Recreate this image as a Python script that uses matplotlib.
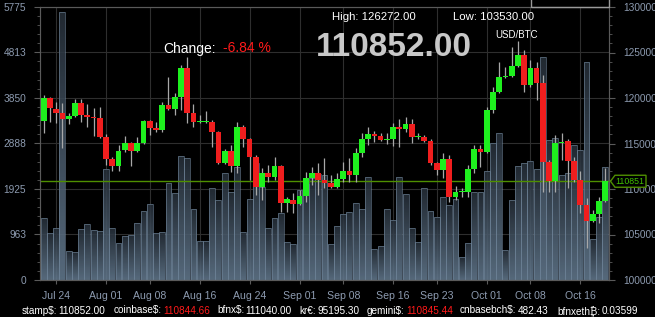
# -*- coding: utf-8 -*-
# BTC/USD ローソク足 + 出来高チャート (黒背景)
import numpy as np
import pandas as pd
import matplotlib
matplotlib.use("Agg")
import matplotlib.pyplot as plt
import matplotlib.dates as mdates
import matplotlib.transforms as mtransforms
from matplotlib.patches import Rectangle, Polygon
from matplotlib.colors import LinearSegmentedColormap
from matplotlib.ticker import AutoMinorLocator, FixedLocator

plt.rcParams['font.family'] = ['Liberation Sans', 'DejaVu Sans', 'Noto Sans']

# データ (価格は千ドル単位)
start_date = '2025-07-22'
open_k = [117.47, 120.00, 118.79, 118.35, 117.69, 118.02, 119.45, 118.13, 117.91, 117.80,
          115.71, 113.30, 112.53, 114.28, 115.05, 114.18, 115.05, 117.47, 116.70, 116.48,
          119.23, 118.79, 120.11, 123.30, 118.35, 117.36, 117.40, 117.36, 116.26, 112.86,
          114.18, 112.53, 116.81, 115.49, 113.52, 110.22, 111.76, 111.32, 112.53, 108.46,
          108.79, 108.35, 109.23, 111.21, 111.76, 110.99, 110.66, 110.22, 111.10, 111.98,
          111.54, 113.96, 115.49, 116.04, 115.82, 115.38, 115.49, 116.81, 116.59, 117.14,
          115.71, 115.71, 115.27, 112.86, 112.09, 113.30, 109.12, 109.67, 109.67, 112.20,
          114.39, 114.07, 118.68, 120.66, 122.31, 122.42, 123.52, 124.73, 121.43, 123.30,
          121.65, 112.97, 110.88, 115.05, 115.27, 113.08, 110.99, 108.24, 106.48, 107.25,
          108.68]
high_k = [120.33, 120.11, 119.56, 119.45, 118.35, 119.89, 119.89, 119.34, 118.90, 119.01,
          116.04, 113.52, 114.83, 115.82, 115.16, 115.71, 117.58, 117.58, 117.36, 119.56,
          122.31, 120.55, 123.63, 124.51, 119.34, 118.13, 118.57, 117.58, 116.37, 114.39,
          114.83, 117.36, 117.03, 115.60, 113.74, 112.31, 112.64, 113.52, 112.64, 109.12,
          109.56, 109.89, 111.87, 112.42, 112.86, 113.41, 111.54, 111.76, 112.97, 113.41,
          114.50, 116.15, 116.81, 116.37, 116.15, 116.15, 117.25, 117.69, 117.91, 117.69,
          116.15, 115.93, 115.49, 112.97, 113.96, 113.74, 110.33, 110.11, 112.64, 114.83,
          114.83, 119.01, 121.21, 123.96, 123.41, 125.60, 126.272, 125.27, 124.18, 123.96,
          122.53, 113.19, 115.93, 116.15, 115.49, 113.52, 111.98, 109.01, 107.69, 109.12,
          112.31]
low_k = [116.15, 117.36, 117.25, 114.50, 117.14, 117.91, 117.36, 116.81, 115.82, 115.60,
         112.64, 111.98, 111.98, 114.07, 112.53, 114.07, 114.95, 115.93, 116.26, 116.26,
         118.68, 118.13, 118.68, 117.25, 116.81, 117.25, 117.25, 114.61, 112.75, 112.75,
         111.87, 111.76, 114.61, 110.99, 109.34, 108.79, 110.77, 110.99, 107.47, 107.47,
         107.36, 108.24, 108.57, 110.44, 109.34, 110.11, 110.11, 110.11, 110.77, 110.77,
         110.77, 113.52, 114.83, 115.16, 115.27, 114.95, 114.72, 114.61, 116.26, 115.05,
         115.49, 115.16, 112.64, 111.54, 111.21, 108.57, 108.79, 109.12, 109.12, 111.76,
         112.42, 113.96, 118.35, 120.55, 122.20, 122.31, 123.41, 120.66, 121.21, 119.78,
         109.67, 109.67, 109.67, 113.19, 110.11, 110.77, 107.36, 103.53, 106.37, 106.26,
         108.57]
close_k = [120.00, 118.90, 118.35, 117.69, 118.02, 119.45, 118.13, 117.91, 117.80, 115.71,
           113.30, 112.53, 114.18, 115.05, 114.18, 115.05, 117.47, 116.70, 116.48, 119.23,
           118.79, 120.11, 123.30, 118.35, 117.36, 117.47, 117.47, 116.26, 112.86, 114.18,
           112.53, 116.81, 115.49, 113.52, 110.22, 111.76, 111.32, 112.53, 108.46, 108.90,
           108.35, 109.23, 111.21, 111.76, 110.99, 110.66, 110.22, 111.10, 111.98, 111.54,
           113.96, 115.49, 116.04, 115.82, 115.38, 115.49, 116.81, 116.59, 117.14, 115.71,
           115.82, 115.27, 112.86, 112.09, 113.30, 109.12, 109.67, 109.78, 112.20, 114.39,
           114.07, 118.68, 120.66, 122.31, 122.42, 123.52, 124.73, 121.43, 123.30, 121.65,
           112.97, 110.88, 115.05, 115.16, 113.08, 110.99, 108.24, 106.48, 107.25, 108.68,
           110.851]
volume = [1311, 994, 1100, 5668, 613, 592, 1079, 1184, 1058, 1036,
          2348, 1100, 783, 931, 952, 1206, 1459, 1607, 994, 1015,
          2052, 1840, 2623, 2580, 1502, 825, 825, 1946, 1692, 2263,
          1861, 2390, 1015, 1713, 2475, 1967, 1100, 1311, 1417, 804,
          761, 1904, 2030, 2157, 2242, 2221, 761, 1142, 1396, 1438,
          1629, 1502, 2178, 656, 719, 1502, 1269, 2178, 1819, 1100,
          804, 1946, 1459, 1332, 1755, 1586, 1713, 486, 783, 1861,
          1861, 2305, 2898, 3109, 635, 1692, 2411, 2475, 2517, 2348,
          4716, 2961, 3003, 2221, 2263, 2855, 2750, 4611, 867, 1332,
          2390]

vol_ticks = [0, 963, 1925, 2888, 3850, 4813, 5775]
price_ticks = [100000, 105000, 110000, 115000, 120000, 125000, 130000]
date_ticks = ['2025-07-24', '2025-08-01', '2025-08-08', '2025-08-16', '2025-08-24', '2025-09-01',
              '2025-09-08', '2025-09-16', '2025-09-23', '2025-10-01', '2025-10-08', '2025-10-16']

last_price = 110851
day_high = 126272.00
day_low = 103530.00
price_now = 110852.00
change_pct = -6.84
pair_name = 'USD/BTC'

ticker_names = ['stamp$:', 'coinbase$:', 'bfnx$:', 'kr€:', 'gemini$:', 'cnbasebch$:', 'bfnxeth₿:']
ticker_values = ['110852.00', '110844.66', '111040.00', '95195.30', '110845.44', '482.43', '0.03599']
ticker_down = [False, True, False, False, True, False, False]

# 色
bg = 'black'
up_col = '#1ef01e'
down_col = '#f01e1e'
wick_col = '#a8a8a8'
grid_col = '#2e2e2e'
spine_col = '#5a5a5a'
label_col = '#8d9bb0'
line_green = '#4f8f00'

# 図
W, H = 655, 317
fig = plt.figure(figsize=(W / 100, H / 100), dpi=100, facecolor=bg)
ax = fig.add_axes([40 / W, 37 / H, 569 / W, 273 / H])
ax.set_facecolor(bg)
ax2 = ax.twinx()

dates = pd.date_range(start_date, periods=len(close_k))
x = mdates.date2num(dates)
w = 0.94

# 出来高 (グラデーション付きバー)
grad = np.linspace(0, 1, 64).reshape(-1, 1)
vcmap = LinearSegmentedColormap.from_list('vol', ['#62788d', '#262f39'])
for xi, v in zip(x, volume):
    rect = Rectangle((xi - w / 2, 0), w, v, fc='none', ec='#6f8499', lw=0.7, alpha=0.6, zorder=2)
    ax.add_patch(rect)
    im = ax.imshow(grad, extent=(xi - w / 2, xi + w / 2, 0, v), origin='lower', cmap=vcmap,
                   aspect='auto', alpha=0.88, zorder=1, interpolation='bilinear')
    im.set_clip_path(rect)

ax.set_xlim(x[0] - 0.59, x[-1] + 0.6)
ax.set_ylim(0, vol_ticks[-1])
ax.yaxis.set_major_locator(FixedLocator(vol_ticks))
ax.set_yticklabels([str(t) for t in vol_ticks])
ax.yaxis.set_minor_locator(AutoMinorLocator(5))
ax.set_axisbelow(True)
ax.grid(True, color=grid_col, lw=0.8)

tick_x = mdates.date2num(pd.to_datetime(date_ticks))
ax.set_xticks(tick_x)
ax.set_xticklabels(pd.to_datetime(date_ticks).strftime('%b %d'))

# ローソク足
o = np.array(open_k) * 1000
h = np.array(high_k) * 1000
l = np.array(low_k) * 1000
c = np.array(close_k) * 1000
ax2.axhline(last_price, color=line_green, lw=1.0, zorder=1)
ax2.vlines(x, l, h, color=wick_col, lw=0.9, zorder=2)
cols = [up_col if ci >= oi else down_col for oi, ci in zip(o, c)]
body = np.maximum(np.abs(c - o), 120)
ax2.bar(x, body, bottom=np.minimum(o, c), width=0.92, color=cols, zorder=3)
ax2.set_ylim(price_ticks[0], price_ticks[-1])
ax2.yaxis.set_major_locator(FixedLocator(price_ticks))
ax2.set_yticklabels([str(t) for t in price_ticks])
ax2.yaxis.set_minor_locator(AutoMinorLocator(5))
ax2.set_xlim(ax.get_xlim())

for a in (ax, ax2):
    for s in a.spines.values():
        s.set_color(spine_col)
    a.tick_params(colors=spine_col, labelcolor=label_col, labelsize=7.3, length=4, width=0.8)
    a.tick_params(which='minor', colors=spine_col, length=2.5, width=0.6)
ax.tick_params(axis='y', pad=6)
ax2.tick_params(axis='y', pad=6.5)
ax.tick_params(axis='x', labelsize=7.6, pad=5, length=3)

# 右端の価格タグ
anchor = mtransforms.ScaledTranslation(1.0, last_price, ax2.get_yaxis_transform())
tag_tr = fig.dpi_scale_trans + anchor
tag = Polygon(np.array([[1.5, 0], [6, 6], [37, 6], [37, -6], [6, -6]]) / 100,
              closed=True, fc='black', ec=line_green, lw=1.0, transform=tag_tr,
              clip_on=False, zorder=10)
ax2.add_patch(tag)
ax2.annotate(f'{last_price}', xy=(1.0, last_price), xycoords=ax2.get_yaxis_transform(),
             xytext=(15.2, -0.3), textcoords='offset points', ha='center', va='center',
             color='#3fbf00', fontsize=6.3, zorder=11, annotation_clip=False)

# 上部の文字
def fx(px):
    return px / W

def fy(py):
    return (H - py) / H

fig.text(fx(331.7), fy(20.5), f'High: {day_high:.2f}', color='white', fontsize=8.2, va='baseline')
fig.text(fx(452.7), fy(20.5), f'Low: {day_low:.2f}', color='white', fontsize=8.2, va='baseline')
fig.text(fx(394), fy(56.5), f'{price_now:.2f}', color='#c8c8c8', fontsize=24,
         fontweight='bold', ha='center', va='baseline')
fig.text(fx(163.3), fy(52.5), 'Change:', color='white', fontsize=10, va='baseline')
fig.text(fx(222.7), fy(52.5), f'{change_pct:.2f} %', color='#ff1a1a', fontsize=10, va='baseline')
fig.text(fx(495), fy(37.7), pair_name, color='white', fontsize=7, va='baseline')

fig.add_artist(Rectangle((fx(531), fy(7)), fx(609) - fx(531), fy(-2) - fy(7),
                         transform=fig.transFigure, fc='none', ec='#9a9a9a', lw=1.0))

# 下部のティッカー
ticker_x = [21.7, 113.6, 217.0, 299.5, 366.7, 459.5, 557.0]
fig.canvas.draw()
renderer = fig.canvas.get_renderer()
for i, (nm, val, dn) in enumerate(zip(ticker_names, ticker_values, ticker_down)):
    yb = 314.5 if i == len(ticker_names) - 1 else 313.5
    t = fig.text(fx(ticker_x[i]), fy(yb), nm, color='white', fontsize=7.2, va='baseline')
    bb = t.get_window_extent(renderer)
    fig.text(fx(bb.x1 + 1.5), fy(yb), val, color='#ff1a1a' if dn else 'white',
             fontsize=7.2, va='baseline')

fig.savefig('out.png', dpi=100, facecolor=bg)
